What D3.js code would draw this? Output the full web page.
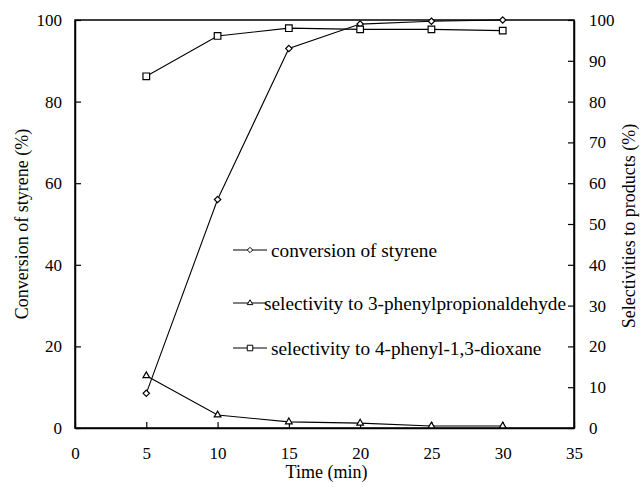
<!DOCTYPE html>
<html>
<head>
<meta charset="utf-8">
<script src="https://cdn.jsdelivr.net/npm/d3@7"></script>
<style>
  html, body { margin: 0; padding: 0; background: #fff; }
  svg { display: block; }
</style>
</head>
<body>
<svg id="chart" width="640" height="489"></svg>
<script>
// ---- data ----
const time = [5, 10, 15, 20, 25, 30];
const conversion = [8.5, 56, 93, 99, 99.7, 100];
const selAldehyde = [12.8, 3.2, 1.5, 1.2, 0.5, 0.5];
const selDioxane = [86.2, 96.1, 98, 97.7, 97.7, 97.4];
const xTicks = [0, 5, 10, 15, 20, 25, 30, 35];
const yLeftTicks = [0, 20, 40, 60, 80, 100];
const yRightTicks = [0, 10, 20, 30, 40, 50, 60, 70, 80, 90, 100];
const seriesNames = ["conversion of styrene", "selectivity to 3-phenylpropionaldehyde", "selectivity to 4-phenyl-1,3-dioxane"];

const FONT = "Liberation Serif";
const svg = d3.select("#chart");
const L = 75, R = 574, T = 20, B = 428;
const tickFs = 17, titleFs = 18, legFs = 19.3;

const x = d3.scaleLinear().domain([0, 35]).range([L, R]);
const yL = d3.scaleLinear().domain([0, 100]).range([B, T]);
const yR = d3.scaleLinear().domain([0, 100]).range([B, T]);

// frame
svg.append("rect").attr("x", L).attr("y", T).attr("width", R - L).attr("height", B - T)
  .attr("fill", "none").attr("stroke", "#000").attr("stroke-width", 1.5);

// axes
const ax = svg.append("g").attr("transform", `translate(0,${B})`)
  .call(d3.axisBottom(x).tickValues(xTicks).tickSizeInner(-6).tickSizeOuter(0));
const ay = svg.append("g").attr("transform", `translate(${L},0)`)
  .call(d3.axisLeft(yL).tickValues(yLeftTicks).tickSizeInner(-6).tickSizeOuter(0));
const ar = svg.append("g").attr("transform", `translate(${R},0)`)
  .call(d3.axisRight(yR).tickValues(yRightTicks).tickSizeInner(-6).tickSizeOuter(0));
[ax, ay, ar].forEach(g => {
  g.attr("font-family", FONT).attr("font-size", tickFs);
  g.select(".domain").attr("stroke", "#000").attr("stroke-width", 1.5);
  g.selectAll(".tick line").attr("stroke", "#000").attr("stroke-width", 1.2);
  g.selectAll(".tick text").attr("fill", "#000").attr("font-family", FONT).attr("font-size", tickFs)
    .attr("dominant-baseline", "central").attr("dy", null);
});
ax.selectAll(".tick text").attr("y", 25);
ay.selectAll(".tick text").attr("x", -13);
ar.selectAll(".tick text").attr("x", 15);

// axis titles
svg.append("text").attr("x", (L + R) / 2 + 2).attr("y", 472).attr("text-anchor", "middle")
  .attr("dominant-baseline", "central").attr("font-family", FONT).attr("font-size", titleFs).text("Time (min)");
svg.append("text").attr("transform", `translate(22,${(T + B) / 2}) rotate(-90)`)
  .attr("text-anchor", "middle").attr("dominant-baseline", "central").attr("font-family", FONT).attr("font-size", titleFs)
  .text("Conversion of styrene (%)");
svg.append("text").attr("transform", `translate(629,${(T + B) / 2 + 2}) rotate(-90)`)
  .attr("text-anchor", "middle").attr("dominant-baseline", "central").attr("font-family", FONT).attr("font-size", titleFs)
  .text("Selectivities to products (%)");

// series
const series = [
  { vals: conversion, y: yL, sym: d3.symbolDiamond2, size: 26 },
  { vals: selAldehyde, y: yR, sym: d3.symbolTriangle2, size: 32 },
  { vals: selDioxane, y: yR, sym: d3.symbolSquare2, size: 56 }
];
const line = (ys) => d3.line().x((d, i) => x(time[i])).y(d => ys(d));

series.forEach(s => {
  svg.append("path").datum(s.vals).attr("d", line(s.y)).attr("fill", "none")
    .attr("stroke", "#000").attr("stroke-width", 1.1);
});
series.forEach(s => {
  svg.append("g").selectAll("path").data(s.vals).join("path")
    .attr("transform", (d, i) => `translate(${x(time[i])},${s.y(d)})`)
    .attr("d", d3.symbol().type(s.sym).size(s.size))
    .attr("fill", "#fff").attr("stroke", "#000").attr("stroke-width", 1.2);
});

// legend
const legY = [250, 303, 348];
series.forEach((s, i) => {
  const g = svg.append("g").attr("transform", `translate(0,${legY[i]})`);
  g.append("line").attr("x1", 233).attr("x2", 267).attr("y1", 0).attr("y2", 0)
    .attr("stroke", "#000").attr("stroke-width", 1.1);
  g.append("path").attr("transform", "translate(250,0)")
    .attr("d", d3.symbol().type(s.sym).size(s.size * 0.7))
    .attr("fill", "#fff").attr("stroke", "#000").attr("stroke-width", 1);
  g.append("text").attr("x", i === 1 ? 264 : 271).attr("y", 0).attr("dominant-baseline", "central")
    .attr("font-family", FONT).attr("font-size", legFs).text(seriesNames[i]);
});
</script>
</body>
</html>
